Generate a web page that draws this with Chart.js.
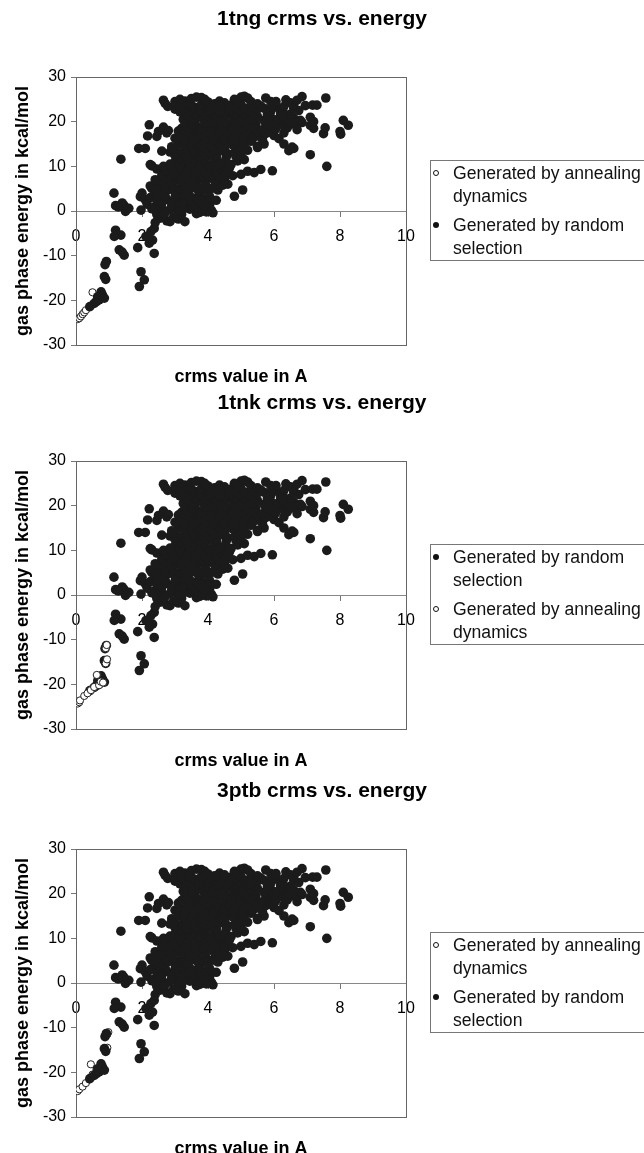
<!DOCTYPE html>
<html>
<head>
<meta charset="utf-8">
<script src="https://cdn.jsdelivr.net/npm/chart.js@4.4.1/dist/chart.umd.min.js"></script>
<style>
    body { margin: 0; width: 644px; height: 1153px; overflow: hidden; background: #fff; position: relative; font-family: "Liberation Sans", Arial, sans-serif; }
    .panel { position: absolute; left: 0; width: 644px; height: 390px; }
    .panel canvas { position: absolute; left: 0; top: 0; }
    .legend { position: absolute; left: 430px; top: 160px; width: 240px; height: 101px; border: 1px solid #777; box-sizing: border-box; font-size: 17.6px; color: #111; }
    .item { position: relative; padding-left: 22px; line-height: 23px; margin-top: 6px; }
    .item:first-child { margin-top: 1px; }
    .dot { position: absolute; left: 2px; top: 8px; width: 6px; height: 6px; border-radius: 50%; box-sizing: border-box; }
    .dot.filled { background: #111; }
    .dot.open { border: 1px solid #111; background: #fff; }
</style>
</head>
<body>
<div class="panel" style="top:0px"><canvas id="chart0" width="644" height="390"></canvas><div class="legend" id="legend0"></div></div>
<div class="panel" style="top:384px"><canvas id="chart1" width="644" height="390"></canvas><div class="legend" id="legend1"></div></div>
<div class="panel" style="top:772px"><canvas id="chart2" width="644" height="390"></canvas><div class="legend" id="legend2"></div></div>

<script>
// Data: crms (A) vs. gas phase energy (kcal/mol)
const chartTitles = ['1tng crms vs. energy', '1tnk crms vs. energy', '3ptb crms vs. energy'];
const xAxisTitle = 'crms value in A';
const yAxisTitle = 'gas phase energy in kcal/mol';
const labelAnnealing = ['Generated by annealing', 'dynamics'];
const labelRandom = ['Generated by random', 'selection'];

// legend order per chart ('a' = annealing, 'r' = random)
const legendOrders = [['a', 'r'], ['r', 'a'], ['a', 'r']];

// same random selection set in all three panels
const randomPoints = [
    // low tail
    [0.42, -21.4], [0.55, -20.7], [0.62, -20.3], [0.7, -19.9], [0.8, -18.8], [0.86, -19.5], [0.76, -18.1], [0.66, -19.2],
    [0.86, -14.7], [0.9, -15.3], [0.88, -12.0], [0.92, -11.3],
    [1.2, -4.3], [1.36, -5.4], [1.16, -5.7], [1.31, -8.7], [1.46, -9.9], [1.4, -9.2],
    [1.87, -8.2], [1.97, -13.6], [2.07, -15.4], [1.92, -16.9],
    [2.12, -5.7], [2.27, -4.6], [2.37, -3.9], [2.32, -6.5], [2.22, -7.2], [2.37, -9.5], [2.4, -2.6],
    [1.5, -0.1], [1.6, 0.6], [1.45, 1.3], [1.2, 1.2], [1.15, 4.0], [1.97, 0.2], [1.4, 1.8], [1.28, 0.9], [1.36, 11.6],
    // left edge of the cloud
    [1.95, 3.2], [2.0, 4.0], [2.1, 2.5], [2.16, 1.5], [2.25, 3.0], [2.3, 5.0], [2.25, 5.6], [2.3, 10.1], [2.45, 9.4],
    [2.4, 7.0], [2.5, 6.0], [2.4, 4.5], [2.45, 3.0], [2.5, 2.0], [2.3, 0.5], [2.4, 1.0], [2.5, -0.5], [2.55, -1.6],
    [2.45, -0.8], [1.9, 14.0], [2.1, 14.0], [2.17, 16.8], [2.22, 19.3], [2.45, 16.7], [2.5, 17.8], [2.65, 18.8],
    [2.75, 17.5], [2.6, 13.4], [2.9, 14.4],
    // y -2 .. 0
    [2.75, -2.2], [2.85, -2.4], [2.95, -1.5], [3.1, -1.8], [3.3, -2.4], [3.2, -0.8], [3.65, -0.6], [3.75, -0.3], [3.05, -1.1],
    // y 0 .. 1
    [2.4, 0.2], [2.6, 0.6], [2.7, -0.4], [2.85, 0.3], [3.0, 0.8], [3.15, 0.1], [3.35, 1.0], [3.45, 0.4], [3.55, 1.1],
    [3.7, 0.6], [3.85, 0.3], [4.0, 0.9], [4.1, 0.2], [4.15, -0.4], [4.05, 1.4], [3.95, -0.2],
    [2.55, 1.2], [2.9, 1.1], [3.25, 0.5], [3.6, 1.7], [3.9, 1.2],
    // y 2 .. 3
    [2.45, 2.3], [2.6, 1.7], [2.75, 2.6], [2.9, 1.9], [3.05, 2.5], [3.2, 1.8], [3.3, 3.0], [3.5, 2.2], [3.65, 2.9],
    [3.8, 2.0], [3.95, 2.6], [2.55, 3.4],
    [2.7, 3.3], [3.0, 3.1], [3.2, 3.7], [3.45, 3.4], [3.75, 3.5], [4.05, 3.2], [4.25, 2.4],
    // y 4 .. 5
    [2.5, 4.5], [2.65, 4.0], [2.8, 4.8], [3.0, 4.2], [3.15, 5.0], [3.35, 4.4], [3.5, 5.2], [3.7, 4.6], [3.85, 5.0],
    [4.0, 4.3], [4.15, 5.1], [4.3, 4.7], [4.45, 5.8], [4.6, 6.0], [4.8, 3.3], [5.05, 4.7],
    [2.7, 5.6], [2.95, 5.5], [3.25, 5.8], [3.45, 6.0], [3.65, 5.7], [3.95, 5.6], [4.25, 6.0],
    // y 6 .. 7
    [2.6, 6.5], [2.75, 7.2], [2.9, 6.3], [3.05, 7.0], [3.2, 6.6], [3.4, 7.3], [3.55, 6.4], [3.7, 7.1], [3.9, 6.5],
    [4.05, 7.4], [4.2, 6.8], [4.35, 7.6], [4.5, 7.0], [2.85, 8.0],
    [2.6, 8.0], [3.1, 7.8], [3.6, 7.8], [3.85, 7.9], [4.1, 8.0], [4.35, 8.2], [4.6, 8.8],
    // y 8 .. 9
    [2.7, 9.0], [2.9, 9.4], [3.0, 8.4], [3.2, 9.1], [3.35, 8.3], [3.5, 9.4], [3.65, 8.6], [3.8, 9.2], [3.95, 8.5],
    [4.1, 9.5], [4.25, 8.8], [4.4, 9.6], [4.55, 8.1], [4.75, 7.9], [5.0, 8.2], [5.2, 8.9], [5.4, 8.6], [5.6, 9.3],
    [5.95, 9.0], [2.25, 10.4],
    [2.65, 10.0], [2.95, 9.9], [3.25, 10.0], [3.55, 9.9], [3.85, 10.0], [4.15, 9.9], [4.45, 10.1], [4.65, 9.6],
    // y 10 .. 11
    [2.85, 10.5], [3.0, 11.0], [3.15, 10.3], [3.3, 11.2], [3.45, 10.6], [3.6, 11.4], [3.75, 10.4], [3.9, 11.0],
    [4.05, 10.2], [4.2, 11.3], [4.35, 10.6], [4.5, 11.0], [4.7, 10.4], [4.9, 11.2], [3.95, 12.0],
    [3.1, 11.9], [3.4, 11.8], [3.7, 12.0], [4.25, 11.9], [4.55, 12.0], [4.85, 12.1], [5.1, 11.5],
    // y 12 .. 13
    [2.85, 13.2], [3.0, 12.4], [3.2, 13.0], [3.35, 12.2], [3.5, 13.3], [3.65, 12.6], [3.8, 13.4], [3.95, 12.5],
    [4.1, 13.1], [4.25, 12.3], [4.4, 13.5], [4.6, 12.8], [4.8, 13.0], [5.0, 12.4], [5.2, 13.6], [5.5, 14.5], [5.7, 15.0],
    [3.0, 13.9], [3.3, 14.0], [3.6, 13.8], [3.9, 13.9], [4.2, 13.7], [4.5, 14.0], [4.85, 14.0], [5.05, 13.9],
    // y 14 .. 15
    [3.1, 15.2], [3.25, 14.6], [3.4, 15.4], [3.55, 14.3], [3.7, 15.1], [3.85, 14.5], [4.0, 15.3], [4.15, 14.4],
    [4.3, 15.2], [4.45, 14.6], [4.6, 15.4], [4.75, 14.8], [4.9, 15.5], [5.1, 14.9], [5.3, 15.6], [5.5, 14.2],
    [3.25, 15.9], [3.55, 15.8], [3.85, 16.0], [4.15, 15.8], [4.45, 15.9], [4.75, 15.9], [5.05, 15.8], [5.35, 16.2], [5.65, 16.0],
    // y 16 .. 17
    [3.0, 16.3], [3.15, 17.0], [3.3, 16.2], [3.45, 17.1], [3.6, 16.4], [3.75, 17.2], [3.9, 16.5], [4.05, 17.3],
    [4.2, 16.6], [4.35, 17.0], [4.5, 16.3], [4.65, 17.2], [4.8, 16.5], [4.95, 17.4], [5.1, 16.7], [5.25, 17.5],
    [5.5, 16.8], [5.75, 17.3], [6.0, 16.9], [6.15, 16.2], [6.3, 15.0], [6.45, 13.5], [6.55, 14.3], [6.6, 14.0],
    [3.1, 17.9], [3.4, 17.8], [3.7, 17.9], [4.0, 17.8], [4.3, 17.9], [4.6, 17.8], [4.9, 18.0], [5.2, 17.9],
    [5.5, 17.8], [5.9, 17.6], [6.3, 17.5],
    // y 18 .. 19
    [2.8, 18.0], [3.2, 18.5], [3.35, 19.2], [3.5, 18.3], [3.65, 19.0], [3.8, 18.4], [3.95, 19.3], [4.1, 18.6],
    [4.25, 19.1], [4.4, 18.3], [4.55, 19.4], [4.7, 18.6], [4.85, 19.2], [5.0, 18.5], [5.15, 19.3], [5.3, 18.7],
    [5.45, 19.5], [5.65, 18.2], [5.85, 18.9], [6.05, 18.4], [6.2, 19.3], [6.4, 18.6], [6.55, 19.5], [6.7, 18.2],
    [6.85, 19.8], [7.1, 19.2], [7.2, 18.5], [7.5, 17.3], [7.55, 18.6], [8.0, 17.8], [8.02, 17.2],
    [3.3, 19.8], [3.6, 19.9], [3.9, 19.8], [4.2, 19.9], [4.5, 19.8], [4.8, 19.9], [5.1, 19.8], [5.4, 19.9],
    [5.75, 19.6], [6.0, 19.7], [6.35, 19.9], [6.7, 19.6],
    // y 20 .. 21
    [3.25, 20.5], [3.4, 21.2], [3.55, 20.4], [3.7, 21.3], [3.85, 20.6], [4.0, 21.4], [4.15, 20.3], [4.3, 21.1],
    [4.45, 20.5], [4.6, 21.5], [4.75, 20.7], [4.9, 21.2], [5.05, 20.4], [5.2, 21.3], [5.35, 20.6], [5.5, 21.1],
    [5.7, 20.3], [5.9, 21.0], [6.1, 20.5], [6.3, 21.2], [6.45, 20.0], [6.6, 20.8], [6.8, 20.3], [7.1, 21.0],
    [7.2, 20.0], [8.1, 20.3], [8.25, 19.2],
    [3.3, 21.8], [3.6, 21.9], [3.9, 21.8], [4.2, 21.9], [4.5, 21.8], [4.8, 21.9], [5.1, 21.8], [5.4, 21.7],
    [5.8, 21.6], [6.2, 21.8], [6.5, 21.7],
    // y 22 .. 23
    [3.0, 22.8], [3.15, 22.2], [3.3, 23.0], [3.45, 22.4], [3.6, 23.2], [3.75, 22.5], [3.9, 23.3], [4.05, 22.6],
    [4.2, 23.1], [4.35, 22.2], [4.5, 23.3], [4.7, 22.5], [4.85, 23.2], [5.0, 22.4], [5.15, 23.0], [5.3, 22.2],
    [5.5, 22.8], [5.7, 23.0], [5.9, 22.3], [6.15, 22.9], [6.27, 22.3], [6.6, 23.0], [6.75, 22.5],
    [3.2, 23.7], [3.5, 23.6], [3.8, 23.8], [4.1, 23.6], [4.4, 23.5], [4.7, 23.7], [5.0, 23.8], [5.35, 23.6],
    [5.6, 23.5], [5.95, 23.6], [6.3, 23.4], [6.6, 23.8], [6.95, 23.6],
    // top band 24 .. 26
    [2.65, 24.8], [2.7, 24.1], [2.78, 23.4], [3.0, 24.5], [3.15, 25.0], [3.3, 24.6], [3.45, 24.0], [3.5, 25.2],
    [3.65, 25.5], [3.8, 25.4], [3.9, 25.0], [4.0, 24.4], [4.2, 24.0], [4.35, 24.6], [4.5, 24.2], [4.8, 25.0],
    [4.9, 24.4], [5.0, 25.5], [5.1, 25.7], [5.2, 25.3], [5.3, 24.5], [5.5, 24.0], [5.75, 25.3], [5.9, 24.5],
    [6.06, 24.5], [6.36, 24.9], [6.5, 24.2], [6.7, 24.8], [6.85, 25.6], [7.17, 23.7], [7.3, 23.7], [7.57, 25.3],
    // right side strays
    [7.1, 12.6], [7.6, 10.0]
];

// annealing dynamics sets, one per panel
const annealing1tng = [
    [0.05, -24.2], [0.1, -24.0], [0.15, -23.6], [0.2, -23.1], [0.25, -22.7], [0.3, -22.2], [0.4, -21.5],
    [0.5, -18.2], [0.62, -19.8], [0.72, -19.0]
];
const annealing1tnk = [
    [0.05, -24.3], [0.1, -24.0], [0.12, -23.6], [0.25, -22.6], [0.35, -22.0], [0.45, -21.3], [0.55, -20.6],
    [0.63, -17.9], [0.7, -20.2], [0.75, -19.4], [0.82, -19.6], [0.9, -15.3], [0.94, -14.4], [0.9, -11.9], [0.93, -11.2]
];
const annealing3ptb = [
    [0.05, -24.2], [0.1, -23.8], [0.2, -23.2], [0.3, -22.4], [0.4, -21.6], [0.5, -20.5], [0.45, -18.2],
    [0.62, -19.3], [0.9, -15.0], [0.95, -14.5], [0.95, -11.5], [0.98, -11.0]
];
const annealingSets = [annealing1tng, annealing1tnk, annealing3ptb];
// which set is drawn on top in each panel
const annealingOnTop = [false, true, false];

const FONT = '"Liberation Sans", Arial, sans-serif';

const framePlugin = {
    id: 'frame',
    beforeDatasetsDraw(chart) {
        const { ctx, chartArea: { left, top, right, bottom } } = chart;
        ctx.save();
        ctx.strokeStyle = '#666';
        ctx.lineWidth = 1;
        ctx.strokeRect(left + 0.5, top + 0.5, right - left, bottom - top);
        ctx.restore();
    }
};

function toXY(points) {
    return points.map(p => ({ x: p[0], y: p[1] }));
}

function renderLegend(el, order) {
    el.innerHTML = order.map(k => {
        const lines = k === 'a' ? labelAnnealing : labelRandom;
        const cls = k === 'a' ? 'open' : 'filled';
        return `<div class="item"><span class="dot ${cls}"></span>${lines.join('<br>')}</div>`;
    }).join('');
}

function renderChart(idx) {
    const randomDs = {
        label: labelRandom.join(' '),
        data: toXY(randomPoints),
        pointRadius: 4.8,
        pointBackgroundColor: '#1b1b1b',
        pointBorderColor: '#1b1b1b',
        pointBorderWidth: 0
    };
    const annealDs = {
        label: labelAnnealing.join(' '),
        data: toXY(annealingSets[idx]),
        pointRadius: 3.6,
        pointBackgroundColor: '#fff',
        pointBorderColor: '#222',
        pointBorderWidth: 1
    };
    // first dataset ends up on top
    const datasets = annealingOnTop[idx] ? [annealDs, randomDs] : [randomDs, annealDs];

    new Chart(document.getElementById('chart' + idx), {
        type: 'scatter',
        data: { datasets },
        plugins: [framePlugin],
        options: {
            responsive: false,
            animation: false,
            devicePixelRatio: 1,
            layout: { padding: 0 },
            plugins: {
                legend: { display: false },
                tooltip: { enabled: false },
                title: {
                    display: true,
                    text: chartTitles[idx],
                    color: '#000',
                    font: { family: FONT, size: 21, weight: 'bold' },
                    padding: { top: 7, bottom: 44.8 }
                }
            },
            scales: {
                x: {
                    type: 'linear',
                    position: { y: 0 },
                    min: 0,
                    max: 10,
                    ticks: { stepSize: 2, color: '#000', font: { family: FONT, size: 16 }, padding: 11, maxRotation: 0 },
                    grid: { drawOnChartArea: false, tickLength: 5, color: '#777' },
                    border: { color: '#888' }
                },
                xb: {
                    type: 'linear',
                    position: 'bottom',
                    min: 0,
                    max: 10,
                    ticks: { display: false },
                    grid: { display: false, drawTicks: false },
                    border: { display: false },
                    title: {
                        display: true,
                        text: xAxisTitle,
                        color: '#000',
                        font: { family: FONT, size: 18, weight: 'bold' },
                        padding: { top: 0, bottom: 2.2 }
                    },
                    afterFit: s => { s.height = 45; }
                },
                y: {
                    min: -30,
                    max: 30,
                    ticks: { stepSize: 10, color: '#000', font: { family: FONT, size: 16 }, padding: 5 },
                    grid: { drawOnChartArea: false, tickLength: 5, color: '#777' },
                    border: { color: '#666' },
                    title: {
                        display: true,
                        text: yAxisTitle,
                        color: '#000',
                        font: { family: FONT, size: 18, weight: 'bold' },
                        padding: { top: 12.7, bottom: 0 }
                    },
                    afterFit: s => { s.width = 76; }
                },
                // empty right-hand box keeps room for the legend
                yr: {
                    type: 'linear',
                    position: 'right',
                    min: -30,
                    max: 30,
                    ticks: { display: false },
                    grid: { display: false, drawTicks: false },
                    border: { display: false },
                    afterFit: s => { s.width = 238; }
                }
            }
        }
    });

    renderLegend(document.getElementById('legend' + idx), legendOrders[idx]);
}

[0, 1, 2].forEach(renderChart);
</script>
</body>
</html>
